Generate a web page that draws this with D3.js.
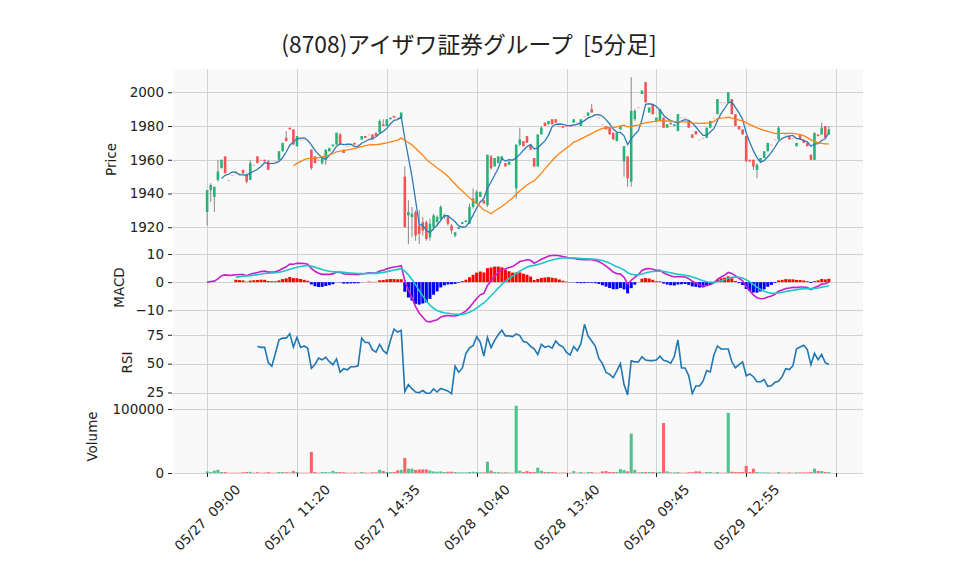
<!DOCTYPE html>
<html>
<head>
<meta charset="utf-8">
<script src="https://cdn.jsdelivr.net/npm/d3@7"></script>
<style>
body { margin: 0; background: #fff; }
svg text { font-family: "DejaVu Sans", sans-serif; fill: #222; }
</style>
</head>
<body>
<svg width="958" height="575"></svg>
<script>
var title = '(8708)アイザワ証券グループ  [5分足]'
var tickIndex = [0, 25, 50, 75, 100, 125, 150, 175]
var tickLabels = ['05/27  09:00', '05/27  11:20', '05/27  14:35', '05/28  10:40', '05/28  13:40', '05/29  09:45', '05/29  12:55', '']

// 5-minute bars, 05/27 09:00 .. 05/29 15:30
var opens = [1929,1942,1938,1948,1955,1962,1948,1951,1952,1952,1954,1951,1948,1957,1962,1960,1960,1959,1958,1959,
  1960,1965,1973,1979,1978,1968,1972,1972,1971,1966,1962,1960,1958,1960,1965,1968,1969,1975,1966,1968,
  1969,1970,1969,1972,1974,1975,1975,1976,1976,1981,1980,1984,1986,1985,1985,
  1950,1927,1926,1929,1921,1923,1923,1914,1920,1923,1925,1926,1926,1921,1915,1919,1922,1923,1922,1932,
  1934,1938,1936,1933,1962,1956,1958,1960,1958,1957,1960,1943,1969,1971,1974,1969,1961,1956,1975,1982,
  1981,1984,1984,1980,1980,1980,1980,1982,1982,1980,1986,1986,1990,1987,1985,1981,1980,1979,1976,1971,1978,
  1959,1962,1947,1984,1991,1999,2006,1988,1993,1983,1983,1985,1979,1982,1980,1977,1985,1985,1983,1975,
  1977,1972,1973,1973,1979,1985,1987,1994,1994,1994,1996,1987,1980,1978,1974,1960,1960,1954,1959,1961,
  1965,1969,1972,1972,1973,1975,1974,1973,1968,1975,1972,1970,1963,1960,1975,1975,1980,1975]
var highs = [1942,1946,1944,1960,1960,1962,1948,1951,1952,1952,1954,1952,1960,1957,1962,1960,1960,1960,1958,1959,
  1965,1970,1977,1979,1978,1974,1972,1972,1971,1966,1962,1960,1962,1966,1967,1969,1976,1976,1966,1968,
  1969,1970,1969,1974,1974,1975,1975,1976,1984,1984,1984,1985,1986,1985,1988,
  1956,1936,1932,1930,1930,1926,1924,1925,1928,1927,1933,1928,1927,1922,1917,1920,1923,1924,1934,1943,
  1942,1941,1936,1963,1963,1961,1962,1962,1958,1959,1960,1969,1979,1971,1974,1969,1961,1975,1980,1982,
  1983,1984,1984,1980,1980,1980,1980,1984,1982,1984,1986,1988,1993,1987,1985,1981,1980,1979,1976,1976,1980,
  1968,1962,2009,1990,1991,2001,2006,1991,1993,1985,1990,1985,1981,1982,1981,1987,1985,1985,1983,1975,
  1977,1972,1973,1979,1983,1985,1996,1994,1994,2000,1996,1987,1980,1978,1974,1960,1960,1958,1961,1965,
  1970,1969,1972,1980,1973,1975,1974,1973,1970,1975,1972,1970,1963,1976,1975,1982,1980,1980]
var lows = [1921,1935,1929,1947,1955,1952,1948,1951,1952,1952,1951,1946,1948,1957,1958,1960,1959,1954,1958,1959,
  1960,1965,1971,1978,1969,1968,1972,1972,1971,1954,1958,1960,1957,1957,1965,1968,1969,1969,1964,1968,
  1969,1969,1969,1972,1973,1975,1972,1974,1976,1980,1980,1984,1985,1985,1985,
  1920,1910,1914,1912,1910,1915,1912,1912,1918,1921,1924,1925,1921,1916,1914,1919,1922,1923,1922,1931,
  1934,1938,1934,1932,1954,1956,1958,1960,1956,1957,1960,1937,1968,1968,1970,1966,1956,1956,1975,1980,
  1981,1981,1982,1980,1979,1980,1980,1982,1982,1980,1986,1986,1988,1987,1985,1981,1978,1975,1972,1971,1978,
  1950,1944,1944,1983,1991,1999,1994,1988,1987,1983,1983,1979,1979,1981,1980,1977,1985,1985,1979,1973,
  1975,1972,1973,1973,1979,1985,1987,1994,1994,1994,1987,1980,1978,1975,1959,1959,1954,1949,1959,1961,
  1965,1969,1972,1972,1973,1975,1972,1973,1968,1972,1970,1968,1960,1960,1974,1975,1973,1975]
var closes = [1942,1945,1944,1953,1960,1952,1948,1951,1952,1952,1952,1947,1958,1957,1958,1960,1959,1954,1958,1959,
  1965,1970,1971,1978,1969,1974,1972,1972,1971,1955,1958,1960,1962,1966,1967,1969,1976,1969,1964,1968,
  1969,1969,1969,1974,1973,1975,1972,1974,1983,1980,1984,1985,1985,1985,1988,
  1920,1929,1928,1915,1916,1918,1913,1922,1927,1926,1932,1927,1922,1918,1917,1920,1923,1924,1932,1937,
  1941,1941,1934,1963,1955,1961,1962,1962,1956,1959,1960,1969,1972,1968,1970,1966,1956,1975,1979,1980,
  1983,1981,1982,1980,1979,1980,1980,1984,1982,1984,1986,1988,1988,1987,1985,1981,1978,1975,1972,1976,1980,
  1968,1949,1989,1989,1991,2001,1994,1991,1987,1985,1990,1979,1981,1981,1981,1987,1985,1985,1979,1973,
  1975,1972,1973,1979,1983,1985,1996,1994,1994,2000,1987,1980,1978,1975,1959,1959,1956,1957,1961,1965,
  1970,1969,1972,1979,1973,1975,1972,1973,1970,1972,1970,1968,1960,1976,1974,1979,1973,1978]
var volumes = [2500,1500,3600,5000,1500,1500,500,500,500,500,1200,1500,1800,500,1200,500,800,1500,500,500,
  1500,1500,1200,800,3000,1500,500,500,500,33000,1500,500,1500,1500,1000,3600,1500,1500,1200,500,
  500,800,500,1500,800,500,1200,1000,5000,3000,1500,1500,1500,4000,5000,
  23400,6700,6700,4700,5600,5600,5600,4000,2500,2000,2500,1500,2000,2000,1500,1000,1000,1000,1500,2000,
  1500,1000,1000,17700,3500,1500,1500,1000,1000,800,500,105000,3600,1500,3000,1500,1500,8300,3500,1500,
  1500,1500,1200,500,800,500,500,3000,500,1500,500,1500,1500,500,500,2500,3000,1500,1500,1500,6000,
  4500,2500,61500,5000,1000,1500,1500,1500,1500,1000,1500,78000,2500,1000,1000,1500,500,500,1200,1200,
  2500,2500,500,1500,1500,500,1500,500,500,94000,2000,1500,1500,1500,11000,1500,6800,1500,1000,1000,
  1000,500,500,1500,500,500,1000,500,1000,1000,1000,1000,1500,6800,3000,3000,1500,1500]

var upColor = '#26b278', downColor = '#f65454'
var n = closes.length

// moving averages / indicators from the closes
function sma(arr, p) {
  return arr.map(function(d, i) {
    if (i < p - 1) return null
    return d3.mean(arr.slice(i - p + 1, i + 1))
  })
}
function ema(arr, p) {
  var a = 2 / (p + 1), out = []
  arr.forEach(function(d, i) { out.push(i == 0 ? d : a * d + (1 - a) * out[i - 1]) })
  return out
}
var ma5 = sma(closes, 5)
var ma25 = sma(closes, 25)
var ema12 = ema(closes, 12), ema26 = ema(closes, 26)
var macd = ema12.map(function(d, i) { return d - ema26[i] })
var signal = ema(macd, 9).map(function(d, i) { return i < 8 ? null : d })
var hist = macd.map(function(d, i) { return signal[i] == null ? null : d - signal[i] })
var gains = closes.map(function(d, i) { return i == 0 ? null : Math.max(d - closes[i - 1], 0) })
var losses = closes.map(function(d, i) { return i == 0 ? null : Math.max(closes[i - 1] - d, 0) })
var rsi = closes.map(function(d, i) {
  if (i < 14) return null
  var g = d3.mean(gains.slice(i - 13, i + 1)), l = d3.mean(losses.slice(i - 13, i + 1))
  return l == 0 ? 100 : 100 - 100 / (1 + g / l)
})

var svg = d3.select('svg')
var left = 173, right = 863
var x = d3.scaleLinear().domain([-9.5, 182.5]).range([left, right])
var step = x(1) - x(0)

var panels = {
  price: { top: 69, bottom: 250, domain: [1906.5, 2013.8], ticks: [1920, 1940, 1960, 1980, 2000], label: 'Price', lx: 116 },
  macd: { top: 250, bottom: 325, domain: [-15.2, 11.4], ticks: [-10, 0, 10], label: 'MACD', lx: 124 },
  rsi: { top: 325, bottom: 400, domain: [18.5, 83.5], ticks: [25, 50, 75], label: 'RSI', lx: 132 },
  vol: { top: 400, bottom: 473, domain: [0, 114000], ticks: [0, 100000], label: 'Volume', lx: 97 }
}

Object.keys(panels).forEach(function(k) {
  var p = panels[k]
  p.y = d3.scaleLinear().domain(p.domain).range([p.bottom, p.top])
  var g = svg.append('g')
  p.g = g
  g.append('rect').attr('x', left).attr('y', p.top).attr('width', right - left).attr('height', p.bottom - p.top)
    .attr('fill', '#f9f9f9')
  g.selectAll('.hg').data(p.ticks).enter().append('line')
    .attr('x1', left).attr('x2', right)
    .attr('y1', function(d) { return Math.round(p.y(d)) + 0.5 }).attr('y2', function(d) { return Math.round(p.y(d)) + 0.5 })
    .attr('stroke', '#d2d2d2').attr('stroke-width', 1)
  g.selectAll('.vg').data(tickIndex).enter().append('line')
    .attr('x1', function(d) { return Math.round(x(d)) + 0.5 }).attr('x2', function(d) { return Math.round(x(d)) + 0.5 })
    .attr('y1', p.top).attr('y2', p.bottom)
    .attr('stroke', '#d2d2d2').attr('stroke-width', 1)
  var axis = d3.axisLeft(p.y).tickValues(p.ticks).tickFormat(d3.format('d')).tickSize(4).tickPadding(4)
  var ag = g.append('g').attr('transform', 'translate(' + (left - 1) + ',0)').call(axis)
  ag.select('.domain').remove()
  ag.selectAll('text').style('font-size', '13.5px').attr('fill', '#222')
  ag.selectAll('line').attr('stroke', '#222')
  g.append('text').attr('transform', 'translate(' + p.lx + ',' + ((p.top + p.bottom) / 2) + ') rotate(-90)')
    .attr('text-anchor', 'middle').style('font-size', '13.5px').text(p.label)
})

var idx = d3.range(n)

// candles
var pp = panels.price
var cg = pp.g.append('g')
cg.selectAll('.wick').data(idx).enter().append('line')
  .attr('x1', function(i) { return x(i) }).attr('x2', function(i) { return x(i) })
  .attr('y1', function(i) { return pp.y(highs[i]) }).attr('y2', function(i) { return pp.y(lows[i]) })
  .attr('stroke', '#888').attr('stroke-width', 1)
cg.selectAll('.body').data(idx).enter().append('rect')
  .attr('x', function(i) { return x(i) - step * 0.36 })
  .attr('width', step * 0.72)
  .attr('y', function(i) { return pp.y(Math.max(opens[i], closes[i])) })
  .attr('height', function(i) { return Math.max(Math.abs(pp.y(opens[i]) - pp.y(closes[i])), 0.8) })
  .attr('fill', function(i) { return closes[i] > opens[i] ? upColor : downColor })
  .attr('opacity', function(i) { return closes[i] == opens[i] ? 0.6 : 1 })

function drawLine(p, data, color, w) {
  var line = d3.line().defined(function(d) { return d != null })
    .x(function(d, i) { return x(i) }).y(function(d) { return p.y(d) })
  p.g.append('path').datum(data).attr('d', line).attr('fill', 'none')
    .attr('stroke', color).attr('stroke-width', w)
}
drawLine(pp, ma5, '#2c7bb6', 1.3)
drawLine(pp, ma25, '#ff8214', 1.3)

// MACD
var mp = panels.macd
mp.g.selectAll('.hist').data(idx.filter(function(i) { return hist[i] != null })).enter().append('rect')
  .attr('x', function(i) { return x(i) - step * 0.42 })
  .attr('width', step * 0.84)
  .attr('y', function(i) { return mp.y(Math.max(hist[i], 0)) })
  .attr('height', function(i) { return Math.abs(mp.y(hist[i]) - mp.y(0)) })
  .attr('fill', function(i) { return hist[i] >= 0 ? '#ff0000' : '#0000ff' })
drawLine(mp, macd, '#c81ec8', 1.6)
drawLine(mp, signal, '#1cc6c9', 1.6)

// RSI
drawLine(panels.rsi, rsi, '#1f77b4', 1.6)

// Volume
var vp = panels.vol
vp.g.selectAll('.vbar').data(idx).enter().append('rect')
  .attr('x', function(i) { return x(i) - step * 0.42 })
  .attr('width', step * 0.84)
  .attr('y', function(i) { return vp.y(volumes[i]) })
  .attr('height', function(i) { return vp.y(0) - vp.y(volumes[i]) })
  .attr('fill', function(i) { return closes[i] > opens[i] ? '#4cc28c' : '#ff6262' })

// x axis: rotated labels centred under each tick
var xg = svg.append('g')
xg.selectAll('.xt').data(tickIndex).enter().append('line')
  .attr('x1', function(d) { return Math.round(x(d)) + 0.5 }).attr('x2', function(d) { return Math.round(x(d)) + 0.5 })
  .attr('y1', vp.bottom).attr('y2', vp.bottom + 4).attr('stroke', '#222')
xg.selectAll('.xl').data(tickIndex).enter().append('text')
  .attr('text-anchor', 'middle').attr('dominant-baseline', 'central')
  .style('font-size', '13.5px').style('white-space', 'pre')
  .text(function(d, i) { return tickLabels[i] })
  .attr('transform', function(d) {
    var L = this.getComputedTextLength()
    var cy = vp.bottom + 9 + (L + 14) / (2 * Math.SQRT2)
    return 'translate(' + x(d) + ',' + cy + ') rotate(-45)'
  })

svg.append('text').attr('x', 469).attr('y', 53).attr('text-anchor', 'middle')
  .style('font-family', '"Noto Sans CJK JP", sans-serif').style('font-size', '22.8px').style('white-space', 'pre')
  .text(title)
</script>
</body>
</html>
